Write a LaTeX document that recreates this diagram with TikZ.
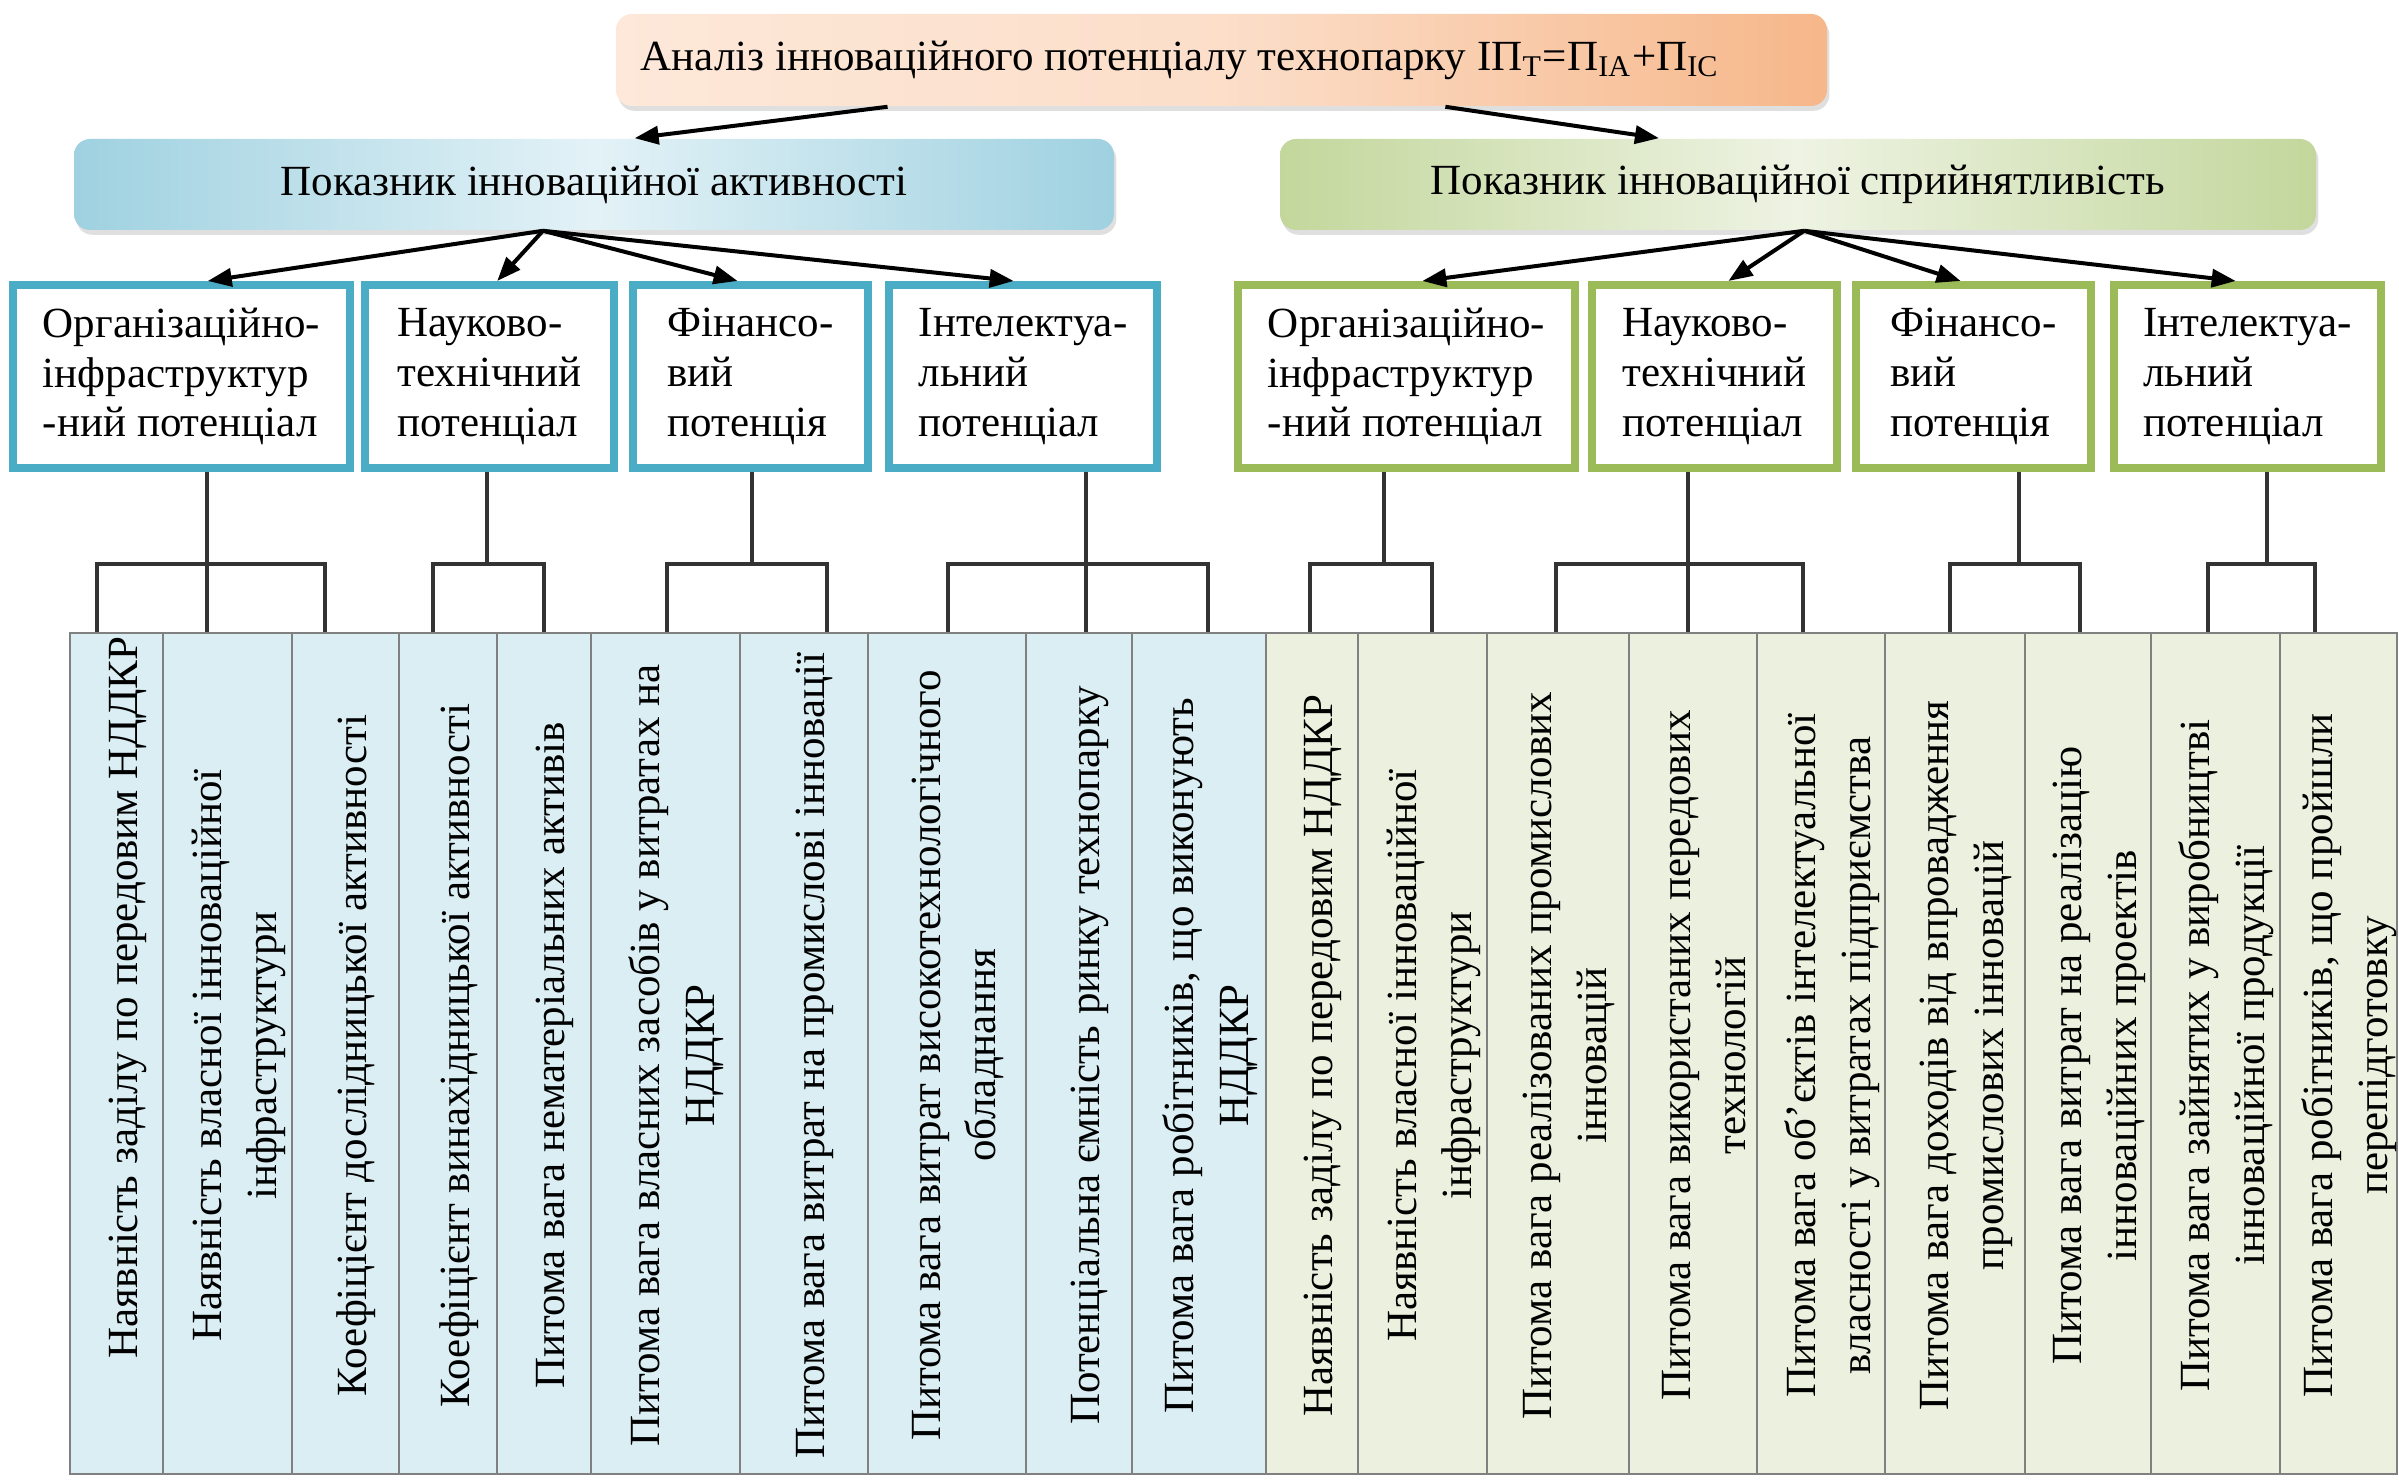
\documentclass[tikz,border=0pt]{standalone}
\usepackage{fontspec}
\setmainfont{Liberation Serif}
\usetikzlibrary{arrows.meta,shadows,calc}
\definecolor{orL}{HTML}{FDE8D9}
\definecolor{orD}{HTML}{F6B78A}
\definecolor{blL}{HTML}{E3F2F7}
\definecolor{blD}{HTML}{9FD1E0}
\definecolor{grL}{HTML}{EEF3E3}
\definecolor{grD}{HTML}{C3D79C}
\definecolor{blB}{HTML}{4BACC6}
\definecolor{grB}{HTML}{9BBB59}
\definecolor{blF}{HTML}{DAEEF3}
\definecolor{grF}{HTML}{EBF1DE}
\begin{document}
\begin{tikzpicture}[x=0.25pt,y=-0.25pt,
  fnt/.style={font=\fontsize{10.75}{12.4}\selectfont},
  hdr/.style={rounded corners=4pt, inner sep=0pt, fnt,
    drop shadow={opacity=0.25,shadow xshift=0.6pt,shadow yshift=-1.2pt}},
  pbox/.style={draw, line width=2pt, fill=white, inner sep=0pt, align=left, fnt},
  cell/.style={draw=black!50, line width=0.6pt, inner sep=0pt},
  ctext/.style={rotate=90, align=center, inner sep=0pt, font=\fontsize{10.75}{13.75}\selectfont},
  arr/.style={line width=1pt, -{Triangle[length=6pt,width=4.5pt]}},
  br/.style={line width=0.8pt, draw=black!80},
]
\useasboundingbox (0,0) rectangle (2399,1484);

% headers
\node[hdr, left color=orL, right color=orD, middle color=orL!80!orD,
      minimum width=302.75pt, minimum height=23pt] (top) at (1221.5,60) {};
\node[fnt, inner sep=0pt] (toptxt) at (1180,60)
  {Аналіз інноваційного потенціалу технопарку ІП\textsubscript{Т}=П\textsubscript{ІА}+П\textsubscript{ІС}};
\node[hdr, left color=blD, right color=blD, middle color=blL,
      minimum width=260pt, minimum height=22.75pt] (bh) at (594,184.5)
  {Показник інноваційної активності};
\node[hdr, left color=grD, right color=grD, middle color=grL,
      minimum width=259pt, minimum height=22.75pt] (gh) at (1798,184.5)
  {Показник інноваційної сприйнятливість};

% potential boxes
\node[pbox, draw=blB, minimum width=84.25pt, minimum height=45.75pt] (b1) at (181.5,376.5)
  {Організаційно-\\інфраструктур\\-ний потенціал};
\node[pbox, draw=blB, minimum width=62.25pt, minimum height=45.75pt] (b2) at (489.5,376.5)
  {Науково-\\технічний\\потенціал};
\node[pbox, draw=blB, minimum width=58.75pt, minimum height=45.75pt] (b3) at (750.5,376.5)
  {Фінансо-\\вий\\потенція};
\node[pbox, draw=blB, minimum width=67pt, minimum height=45.75pt] (b4) at (1023,376.5)
  {Інтелектуа-\\льний\\потенціал};
\node[pbox, draw=grB, minimum width=84.25pt, minimum height=45.75pt] (g1) at (1406.5,376.5)
  {Організаційно-\\інфраструктур\\-ний потенціал};
\node[pbox, draw=grB, minimum width=61.25pt, minimum height=45.75pt] (g2) at (1714.5,376.5)
  {Науково-\\технічний\\потенціал};
\node[pbox, draw=grB, minimum width=58.75pt, minimum height=45.75pt] (g3) at (1973.5,376.5)
  {Фінансо-\\вий\\потенція};
\node[pbox, draw=grB, minimum width=66.75pt, minimum height=45.75pt] (g4) at (2247.5,376.5)
  {Інтелектуа-\\льний\\потенціал};

% table cells
\foreach \a/\b/\c [count=\i] in {70/163/blF,163/292/blF,292/399/blF,399/497/blF,497/591/blF,
  591/740/blF,740/868/blF,868/1026/blF,1026/1132/blF,1132/1266/blF,
  1266/1358/grF,1358/1487/grF,1487/1629/grF,1629/1757/grF,1757/1885/grF,
  1885/2025/grF,2025/2151/grF,2151/2280/grF,2280/2397/grF}
  \node[cell, fill=\c, minimum width={(\b-\a)*0.25pt}, minimum height=210.25pt]
    (c\i) at ({(\a+\b)/2},1053.5) {};

% table texts
\node[ctext] (t1) at ($(c1.center)+(11,-56)$) {Наявність заділу по передовим НДДКР};
\node[ctext] (t2) at ($(c2.center)+(11,2)$) {Наявність власної інноваційної\\інфраструктури};
\node[ctext] (t3) at ($(c3.center)+(11,2)$) {Коефіцієнт дослідницької активності};
\node[ctext] (t4) at ($(c4.center)+(11,2)$) {Коефіцієнт винахідницької активності};
\node[ctext] (t5) at ($(c5.center)+(11,2)$) {Питома вага нематеріальних активів};
\node[ctext] (t6) at ($(c6.center)+(11,2)$) {Питома вага власних засобів у витратах на\\НДДКР};
\node[ctext] (t7) at ($(c7.center)+(11,2)$) {Питома вага витрат на промислові інновації};
\node[ctext] (t8) at ($(c8.center)+(11,2)$) {Питома вага витрат високотехнологічного\\обладнання};
\node[ctext] (t9) at ($(c9.center)+(11,2)$) {Потенціальна ємність ринку технопарку};
\node[ctext] (t10) at ($(c10.center)+(11,2)$) {Питома вага робітників, що виконують\\НДДКР};
\node[ctext] (t11) at ($(c11.center)+(11,2)$) {Наявність заділу по передовим НДДКР};
\node[ctext] (t12) at ($(c12.center)+(11,2)$) {Наявність власної інноваційної\\інфраструктури};
\node[ctext] (t13) at ($(c13.center)+(11,2)$) {Питома вага реалізованих промислових\\інновацій};
\node[ctext] (t14) at ($(c14.center)+(11,2)$) {Питома вага використаних передових\\технологій};
\node[ctext] (t15) at ($(c15.center)+(11,2)$) {Питома вага об’єктів інтелектуальної\\власності у витратах підприємства};
\node[ctext] (t16) at ($(c16.center)+(11,2)$) {Питома вага доходів від впровадження\\промислових інновацій};
\node[ctext] (t17) at ($(c17.center)+(11,2)$) {Питома вага витрат на реалізацію\\інноваційних проектів};
\node[ctext] (t18) at ($(c18.center)+(11,2)$) {Питома вага зайнятих у виробництві\\інноваційної продукції};
\node[ctext] (t19) at ($(c19.center)+(11,2)$) {Питома вага робітників, що пройшли\\перепідготовку};

% arrows from top
\draw[arr] ($(top.south west)!0.2246!(top.south east)$) -- ($(bh.north west)!0.539!(bh.north east)$);
\draw[arr] ($(top.south west)!0.6846!(top.south east)$) -- ($(gh.north west)!0.366!(gh.north east)$);

% arrows from headers
\coordinate (bo) at ($(bh.south west)!0.451!(bh.south east)$);
\coordinate (go) at ($(gh.south west)!0.506!(gh.south east)$);
\draw[arr] (bo) -- ($(b1.north west)!0.576!(b1.north east)$);
\draw[arr] (bo) -- ($(b2.north west)!0.530!(b2.north east)$);
\draw[arr] (bo) -- ($(b3.north west)!0.447!(b3.north east)$);
\draw[arr] (bo) -- ($(b4.north west)!0.466!(b4.north east)$);
\draw[arr] (go) -- ($(g1.north west)!0.546!(g1.north east)$);
\draw[arr] (go) -- ($(g2.north west)!0.555!(g2.north east)$);
\draw[arr] (go) -- ($(g3.north west)!0.447!(g3.north east)$);
\draw[arr] (go) -- ($(g4.north west)!0.457!(g4.north east)$);

% stems and brackets
\foreach \bx/\s/\l/\r/\through in {b1/207/97/325/1, b2/487/433/544/0, b3/752/667/827/0, b4/1086/948/1208/1,
  g1/1384/1310/1432/0, g2/1688/1556/1803/1, g3/2019/1950/2080/0, g4/2267/2208/2315/0}{
  \coordinate (S\bx) at (\s,564);
  \coordinate (L\bx) at (\l,564);
  \coordinate (R\bx) at (\r,564);
  \draw[br] (\bx.south -| S\bx) -- (S\bx);
  \draw[br] (L\bx |- c1.north) -- (L\bx) -- (R\bx) -- (R\bx |- c1.north);
  \ifnum\through=1 \draw[br] (S\bx) -- (S\bx |- c1.north); \fi
}
\end{tikzpicture}
\end{document}
